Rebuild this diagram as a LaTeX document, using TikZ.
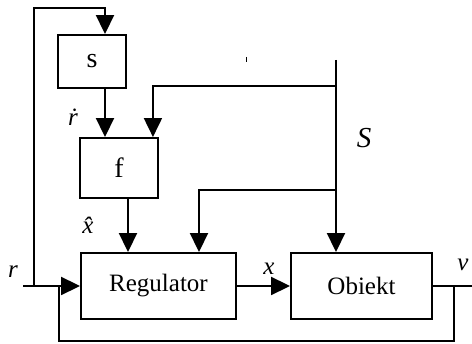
\documentclass[tikz,border=0pt]{standalone}
\usepackage{fontspec}
\setmainfont{Liberation Serif}
\usetikzlibrary{arrows.meta,calc}

\begin{document}
\begin{tikzpicture}[
  x=1pt, y=-1pt,
  txt/.style={font=\fontsize{25}{30}\selectfont},
  lbl/.style={font=\fontsize{25}{30}\selectfont\itshape, inner sep=0pt},
  blk/.style={draw, line width=1.9pt, inner sep=0pt, txt},
  ln/.style={line width=1.9pt},
  arr/.style={-{Triangle[length=19pt,width=18pt]}, line width=1.9pt}
]
\useasboundingbox (0,0) rectangle (472,344);
% blocks
\node[blk, minimum width=68pt, minimum height=53pt, font=\fontsize{28}{32}\selectfont] (sblk) at (92,61.5) {s};
\node[blk, minimum width=78pt, minimum height=60pt, font=\fontsize{28}{32}\selectfont] (fblk) at (119,168) {f};
\node[blk, minimum width=155pt, minimum height=66pt] (reg) at (158.5,286) {Regulator};
\node[blk, minimum width=141pt, minimum height=66pt] (obj) at (361.5,286) {Obiekt};
% points of the lines
\coordinate (rin) at (23,286);
\coordinate (jr) at (34,286);
\coordinate (top) at (105,8);
\coordinate (stop) at (336,60);
\coordinate (j1) at (336,86);
\coordinate (j2) at (336,190);
\coordinate (vout) at (472,286);
\coordinate (jv) at (454,286);
\coordinate (fb) at (59,341);
% connectors
\draw[arr] (rin) -- (reg.west);
\draw[arr] (jr) |- (top) -- (top |- sblk.north);
\draw[arr] ([xshift=13pt]sblk.south) -- ([xshift=13pt]sblk.south |- fblk.north);
\draw[arr] ([xshift=9pt]fblk.south) -- ([xshift=9pt]fblk.south |- reg.north);
\draw[arr] (stop) -- (stop |- obj.north);
\draw[arr] (j1) -| ([xshift=-6pt]fblk.north east);
\draw[arr] (j2) -| ([xshift=40.5pt]reg.north);
\draw[arr] (reg.east) -- (obj.west);
\draw[ln] (obj.east) -- (vout);
\draw[ln] (jv) |- (fb) -- (fb |- rin);
\draw[line width=0.8pt] (246,57) -- (246,62);
% labels
\node[lbl] (rl) at (13,272) {r};
\node[lbl] (rdot) at (73,117) {\.r};
\node[lbl] (xhat) at (88,225) {\^x};
\node[lbl] (xl) at (269,269) {x};
\node[lbl] (vl) at (463,265) {v};
\node[lbl, font=\fontsize{29}{34}\selectfont\itshape] (Sl) at (364,138) {S};
\end{tikzpicture}
\end{document}
